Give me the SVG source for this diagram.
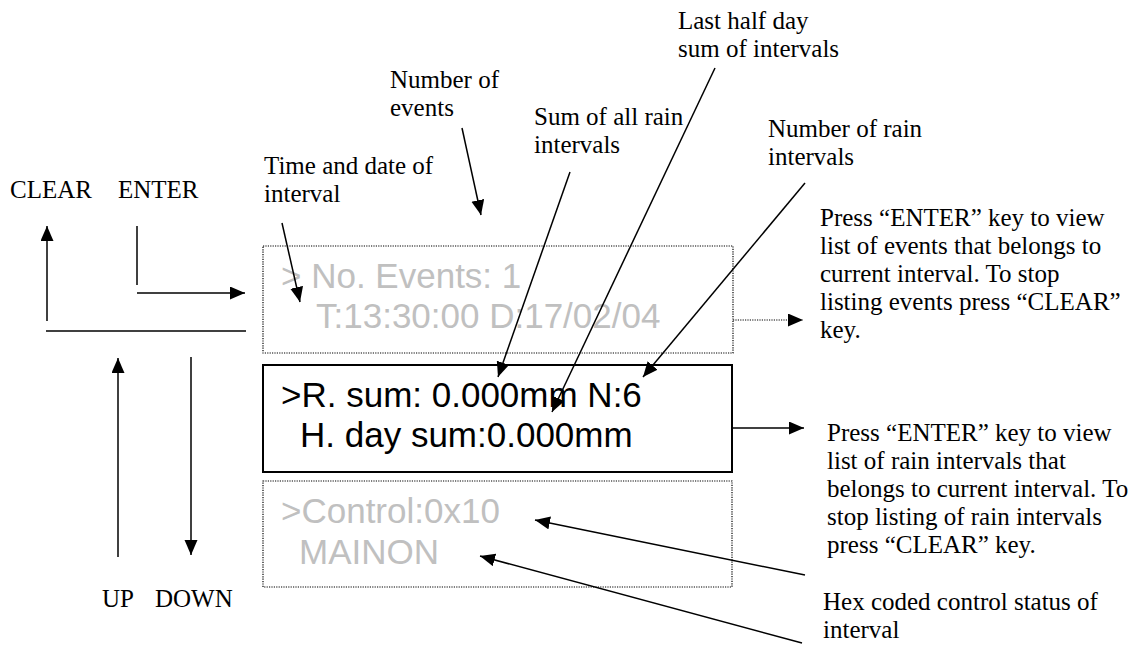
<svg xmlns="http://www.w3.org/2000/svg" width="1145" height="645" viewBox="0 0 1145 645">
<style>
.lbl{font-family:"Liberation Serif","Times New Roman",serif;font-size:25px;fill:#000}
.lcd{font-family:"Liberation Sans",Arial,sans-serif;font-size:35px}
.dim{fill:#c0c0c0}
.blk{fill:#000}
.ln{stroke:#000;stroke-width:1.5;fill:none}
.dot{stroke:#000;stroke-width:1.2;fill:none;stroke-dasharray:1.2 1.2}
</style>
<defs>
<marker id="ah" markerUnits="userSpaceOnUse" markerWidth="16" markerHeight="14" refX="15" refY="6.5" orient="auto">
<path d="M0,0 L15,6.5 L0,13 Z" fill="#000"/>
</marker>
</defs>
<rect width="1145" height="645" fill="#fff"/>

<g id="keys">
<text class="lbl" x="10" y="198">CLEAR</text>
<text class="lbl" x="118" y="198">ENTER</text>
<text class="lbl" x="102" y="607">UP</text>
<text class="lbl" x="155" y="607">DOWN</text>
</g>

<g id="box-events">
<rect class="dot" x="263" y="246" width="470" height="107"/>
<text class="lcd dim" x="281" y="288" xml:space="preserve">&gt; No. Events: 1</text>
<text class="lcd dim" x="316" y="328">T:13:30:00 D:17/02/04</text>
</g>

<g id="box-rain">
<rect x="263" y="365" width="469" height="107" fill="none" stroke="#000" stroke-width="2"/>
<text class="lcd blk" x="281" y="407">&gt;R. sum: 0.000mm N:6</text>
<text class="lcd blk" x="300" y="447">H. day sum:0.000mm</text>
</g>

<g id="box-control">
<rect class="dot" x="263" y="481" width="469" height="106"/>
<text class="lcd dim" x="281" y="523">&gt;Control:0x10</text>
<text class="lcd dim" x="299" y="564">MAINON</text>
</g>

<g id="label-halfday"><text class="lbl" x="678" y="29">Last half day</text><text class="lbl" x="678" y="57">sum of intervals</text></g>
<g id="label-events"><text class="lbl" x="390" y="88">Number of</text><text class="lbl" x="390" y="116">events</text></g>
<g id="label-sum"><text class="lbl" x="534" y="125">Sum of all rain</text><text class="lbl" x="534" y="153">intervals</text></g>
<g id="label-time"><text class="lbl" x="264" y="174">Time and date of</text><text class="lbl" x="264" y="202">interval</text></g>
<g id="label-nrain"><text class="lbl" x="768" y="137">Number of rain</text><text class="lbl" x="768" y="165">intervals</text></g>

<g id="note-events">
<text class="lbl" x="820" y="226">Press “ENTER” key to view</text>
<text class="lbl" x="820" y="254">list of events that belongs to</text>
<text class="lbl" x="820" y="282">current interval. To stop</text>
<text class="lbl" x="820" y="310">listing events press “CLEAR”</text>
<text class="lbl" x="820" y="338">key.</text>
</g>
<g id="note-rain">
<text class="lbl" x="827" y="441">Press “ENTER” key to view</text>
<text class="lbl" x="827" y="469">list of rain intervals that</text>
<text class="lbl" x="827" y="497">belongs to current interval. To</text>
<text class="lbl" x="827" y="525">stop listing of rain intervals</text>
<text class="lbl" x="827" y="553">press “CLEAR” key.</text>
</g>
<g id="note-hex">
<text class="lbl" x="823" y="610">Hex coded control status of</text>
<text class="lbl" x="823" y="638">interval</text>
</g>

<g id="connectors">
<line class="ln" x1="47" y1="321" x2="47" y2="226" marker-end="url(#ah)"/>
<line class="ln" x1="137" y1="226" x2="137" y2="285"/>
<line class="ln" x1="137" y1="293" x2="245" y2="293" marker-end="url(#ah)"/>
<line class="ln" x1="46" y1="331" x2="246" y2="331"/>
<line class="ln" x1="118" y1="557" x2="118" y2="358" marker-end="url(#ah)"/>
<line class="ln" x1="191" y1="357" x2="191" y2="555" marker-end="url(#ah)"/>

<line class="ln" x1="462" y1="128" x2="481" y2="215" marker-end="url(#ah)"/>
<line class="ln" x1="282" y1="223" x2="300" y2="302" marker-end="url(#ah)"/>
<line class="ln" x1="570" y1="172" x2="498" y2="377" marker-end="url(#ah)"/>
<line class="ln" x1="715" y1="68" x2="552" y2="412" marker-end="url(#ah)"/>
<line class="ln" x1="805" y1="183" x2="643" y2="377" marker-end="url(#ah)"/>

<line class="dot" x1="733" y1="320" x2="803" y2="320" marker-end="url(#ah)"/>
<line class="ln" x1="733" y1="428" x2="804" y2="428" marker-end="url(#ah)"/>

<line class="ln" x1="805" y1="575" x2="535" y2="520" marker-end="url(#ah)"/>
<line class="ln" x1="802" y1="643" x2="480" y2="556" marker-end="url(#ah)"/>
</g>
</svg>
